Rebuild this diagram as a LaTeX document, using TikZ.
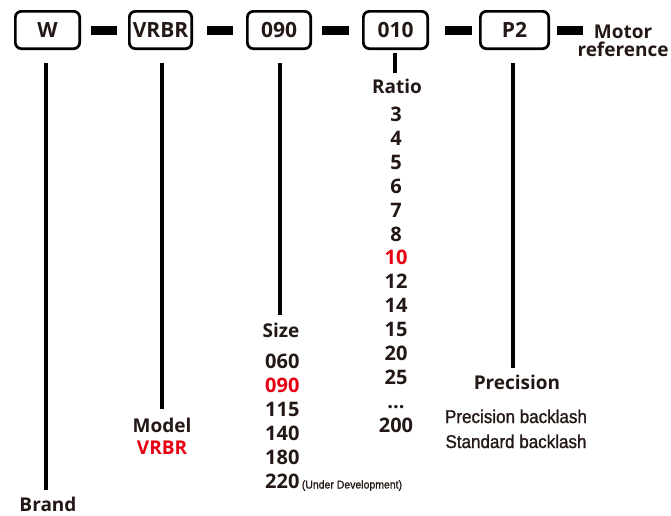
\documentclass[tikz,border=0pt]{standalone}
\usepackage{fontspec}
\setmainfont{Open Sans}
\newfontfamily\condfont[FakeStretch=0.92,FakeBold=1.2]{Liberation Sans}
\definecolor{ink}{HTML}{231815}
\definecolor{accent}{HTML}{E60012}
\tikzset{
  codebox/.style={draw=black, line width=2.7pt, rounded corners=6pt, minimum height=37.3pt, inner sep=0pt, font=\fontsize{21}{21}\selectfont\bfseries, text=ink},
  bar/.style={fill=black, minimum height=9pt, inner sep=0pt},
  vline/.style={line width=3.2pt, draw=black},
  lbl/.style={inner sep=0pt, anchor=base, font=\fontsize{19}{19}\selectfont\bfseries, text=ink},
  num/.style={inner sep=0pt, anchor=base, font=\fontsize{20}{20}\selectfont\bfseries, text=ink},
  numl/.style={num, anchor=base west},
  cond/.style={inner sep=0pt, anchor=base, font=\condfont\fontsize{18.5}{18.5}\selectfont, text=ink},
  condsmall/.style={inner sep=0pt, anchor=base west, font=\condfont\fontsize{11.4}{11.4}\selectfont, text=ink},
}
\begin{document}
\begin{tikzpicture}[x=1pt,y=-1pt]
\useasboundingbox (0,0) rectangle (671,515);
% code boxes
\node[codebox, minimum width=64.3pt] (w) at (47.5,30) {W};
\node[codebox, minimum width=62.3pt] (vrbr) at (160.5,30) {VRBR};
\node[codebox, minimum width=63.3pt] (size) at (279,30) {090};
\node[codebox, minimum width=64.3pt] (ratio) at (395.5,30) {010};
\node[codebox, minimum width=68.3pt] (prec) at (514.5,30) {P2};
% bars
\node[bar, minimum width=26pt] (d1) at (104,30.5) {};
\node[bar, minimum width=26pt] (d2) at (220,30.5) {};
\node[bar, minimum width=27pt] (d3) at (335.5,30.5) {};
\node[bar, minimum width=27pt] (d4) at (458.5,30.5) {};
\node[bar, minimum width=26pt] (d5) at (570,30.5) {};
\node[inner sep=0pt, anchor=north, align=center, font=\fontsize{19}{17.5}\selectfont\bfseries, text=ink] (motor) at (623,25) {Motor\\reference};
% labels
\node[lbl] (brand) at (48,511) {Brand};
\node[lbl] (model) at (162,432) {Model};
\node[lbl, text=accent] (modelv) at (162,454) {VRBR};
\node[lbl] (sizel) at (281,337) {Size};
\node[numl] (s1) at (265,368.5) {060};
\node[numl, text=accent] (s2) at (265,392.5) {090};
\node[numl] (s3) at (265,416.5) {115};
\node[numl] (s4) at (265,440.5) {140};
\node[numl] (s5) at (265,464.5) {180};
\node[numl] (s6) at (265,488.5) {220};
\node[condsmall] (udev) at ([xshift=2pt]s6.base east) {(Under Development)};
\node[lbl] (ratiol) at (397,93) {Ratio};
\node[num] (r1) at (396,121.5) {3};
\node[num] (r2) at (396,145.4) {4};
\node[num] (r3) at (396,169.3) {5};
\node[num] (r4) at (396,193.2) {6};
\node[num] (r5) at (396,217.1) {7};
\node[num] (r6) at (396,241.0) {8};
\node[num, text=accent] (r7) at (396,264.9) {10};
\node[num] (r8) at (396,288.8) {12};
\node[num] (r9) at (396,312.7) {14};
\node[num] (r10) at (396,336.6) {15};
\node[num] (r11) at (396,360.5) {20};
\node[num] (r12) at (396,384.4) {25};
\node[num] (r13) at (396,408.3) {...};
\node[num] (r14) at (396,432.2) {200};
\node[lbl] (precl) at (517,389) {Precision};
\node[cond] (pb) at (516,423) {Precision backlash};
\node[cond] (sb) at (516,448) {Standard backlash};
% connectors
\draw[vline, shorten <=13pt, shorten >=6pt] ([xshift=-1.5pt]w.south) -- ([xshift=-2pt]brand.north);
\draw[vline, shorten <=13pt, shorten >=8pt] ([xshift=1.5pt]vrbr.south) -- (model.north);
\draw[vline, shorten <=13pt, shorten >=7pt] ([xshift=1pt]size.south) -- ([xshift=-1pt]sizel.north);
\draw[vline, shorten <=3pt, shorten >=5pt] ([xshift=-0.5pt]ratio.south) -- ([xshift=-2pt]ratiol.north);
\draw[vline, shorten <=13pt, shorten >=6pt] ([xshift=-1.5pt]prec.south) -- ([xshift=-4pt]precl.north);
\end{tikzpicture}
\end{document}
